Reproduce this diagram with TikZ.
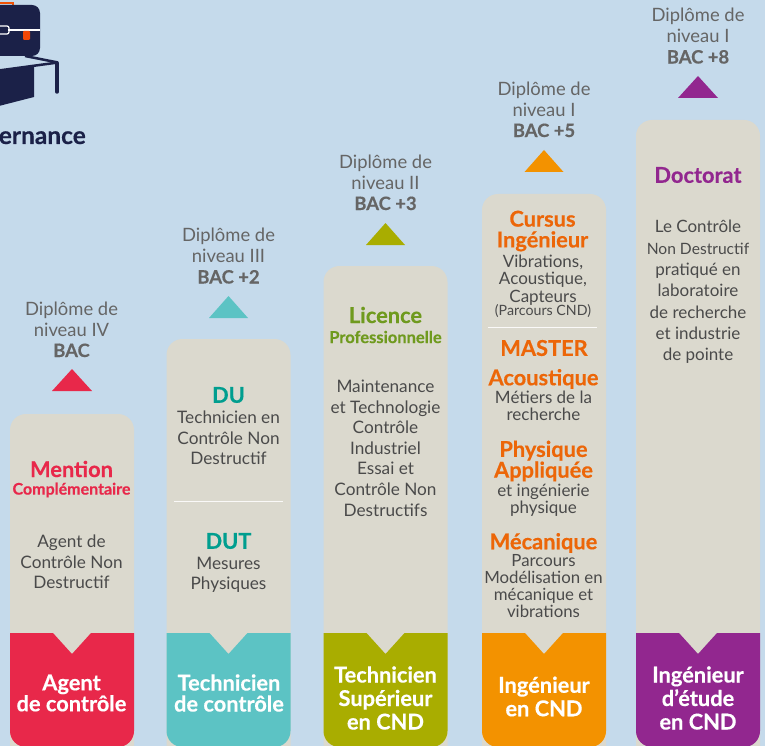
\documentclass[tikz,border=0pt]{standalone}
\usepackage{fontspec}
\setmainfont{Lato}[BoldFeatures={FakeBold=0.4}]
\definecolor{bgc}{HTML}{C5DAEB}
\definecolor{panel}{HTML}{DBD9CE}
\definecolor{cred}{HTML}{E8284A}
\definecolor{cteal}{HTML}{5CC3C4}
\definecolor{colive}{HTML}{A9AD00}
\definecolor{corange}{HTML}{F39200}
\definecolor{cpurple}{HTML}{92278F}
\definecolor{tteal}{HTML}{009E8F}
\definecolor{tolive}{HTML}{6F9A1E}
\definecolor{torange}{HTML}{EC6608}
\definecolor{body}{HTML}{4A4A4A}
\definecolor{navy}{HTML}{1B2148}
\newcommand{\column}[3]{% cx, top, color
  \fill[panel,rounded corners=16pt] (#1-62,#2) -- (#1+62,#2) -- (#1+62,780) -- (#1-62,780) -- cycle;
  \fill[#3,rounded corners=16pt] (#1-62,633) [sharp corners] -- (#1-19,633) -- (#1,654) -- (#1+19,633) -- (#1+62,633) [rounded corners=16pt] -- (#1+62,747) -- (#1-62,747) [sharp corners] -- cycle;
}
\tikzset{
  x=1pt,y=-1pt,
  lvl/.style={font=\fontsize{18.4}{20.8}\selectfont,text=body!85!white,align=center,inner sep=0pt},
  txt/.style={font=\fontsize{17.2}{20.6}\selectfont,text=body,align=center,inner sep=0pt},
  tight/.style={font=\fontsize{17}{17.2}\selectfont,text=body,align=center,inner sep=0pt},
  head/.style={font=\fontsize{21.8}{20.8}\selectfont\bfseries,align=center,inner sep=0pt},
  foot/.style={font=\fontsize{21.8}{21}\selectfont\bfseries,text=white,align=center,inner sep=0pt},
  footwide/.style={foot,font=\fontsize{21.8}{23.5}\selectfont\bfseries},
  rule/.style={draw=white!85!panel,line width=1pt}
}
\begin{document}
\begin{tikzpicture}
\useasboundingbox (0,0) rectangle (765,746);
\clip (0,0) rectangle (765,746);
\fill[bgc] (0,0) rectangle (765,746);
% icon
\draw[torange!80!red,line width=1.5pt] (0,3) -- (13,3) -- (13,8);
\fill[navy,rounded corners=8pt] (-20,5) rectangle (40,56);
\draw[white,line width=1.2pt] (8,30) -- (40,30);
\draw[white,line width=1.2pt,rounded corners=2pt] (-3,26) -- (9,26) -- (9,34) -- (-3,34);
\fill[torange!70!red,rounded corners=1pt] (23,31) rectangle (30,40);
\fill[navy] (-5,71) -- (34,65) -- (34,97) -- (-5,107) -- cycle;
\draw[navy,line width=2.5pt] (-5,71) -- (58,62.5);
\draw[navy,line width=2.5pt] (25,56) -- (58,62.5);
\draw[navy,line width=3.5pt,line cap=round] (57,63) -- (57,92);
\node[anchor=base east,inner sep=0pt,font=\fontsize{24.5}{26}\selectfont\bfseries,text=navy] (alt) at (86,144) {ernance};
% columns
\column{72}{414}{cred}
\column{228.5}{339}{cteal}
\column{385.5}{266}{colive}
\column{544}{194}{corange}
\column{698}{120}{cpurple}
% triangles
\fill[cred] (52,391) -- (72,369) -- (92,391) -- cycle;
\fill[cteal] (209,318) -- (228.5,296) -- (248,318) -- cycle;
\fill[colive] (366,245) -- (385.5,223) -- (405,245) -- cycle;
\fill[corange] (524.5,172) -- (544,150) -- (563.5,172) -- cycle;
\fill[cpurple] (678,98) -- (698,76) -- (718,98) -- cycle;
% levels
\node[lvl] (la) at (71.5,329.5) {Diplôme de\\niveau IV\\\textbf{BAC}};
\node[lvl] (lb) at (228.5,256) {Diplôme de\\niveau III\\\textbf{BAC +2}};
\node[lvl] (lc) at (385.5,182.5) {Diplôme de\\niveau II\\\textbf{BAC +3}};
\node[lvl] (ld) at (544,109.5) {Diplôme de\\niveau I\\\textbf{BAC +5}};
\node[lvl] (le) at (698,36) {Diplôme de\\niveau I\\\textbf{BAC +8}};
% column 1
\node[head,text=cred] (a1) at (71.5,469) {Mention};
\node[head,text=cred,font=\fontsize{16}{18}\selectfont\bfseries] (a2) at (71.5,490) {Complémentaire};
\node[txt] (a3) at (71.5,562) {Agent de\\Contrôle Non\\Destructif};
\node[foot] (a4) at (71.5,693) {Agent\\de contrôle};
% column 2
\node[head,text=tteal] (b1) at (228.5,395) {DU};
\node[txt] (b2) at (228.5,438) {Technicien en\\Contrôle Non\\Destructif};
\coordinate (bl) at (174,501); \coordinate (br) at (283,501);
\draw[rule] (bl) -- (br);
\node[head,text=tteal] (b3) at (228.5,541) {DUT};
\node[txt] (b4) at (228.5,575) {Mesures\\Physiques};
\node[foot] (b5) at (229,693) {Technicien\\de contrôle};
% column 3
\node[head,text=tolive] (c1) at (385.5,315) {Licence};
\node[head,text=tolive,font=\fontsize{16.5}{18}\selectfont\bfseries] (c2) at (385.5,337) {Professionnelle};
\node[txt] (c3) at (385.5,448) {Maintenance\\et Technologie\\Contrôle\\Industriel\\Essai et\\Contrôle Non\\Destructifs};
\node[footwide] (c4) at (385.5,698) {Technicien\\Supérieur\\en CND};
% column 4
\node[head,text=torange] (d1) at (542.5,231) {Cursus\\Ingénieur};
\node[tight] (d2) at (543,280) {Vibrations,\\Acoustique,\\Capteurs};
\node[txt,font=\fontsize{14.2}{15}\selectfont] (d3) at (543,311) {(Parcours CND)};
\coordinate (dl) at (488,327); \coordinate (dr) at (597,327);
\draw[rule] (dl) -- (dr);
\node[head,text=torange] (d4) at (544,348) {MASTER};
\node[head,text=torange] (d5) at (543.5,379) {Acoustique};
\node[tight] (d6) at (543.5,406) {Métiers de la\\recherche};
\node[head,text=torange] (d7) at (543.5,461) {Physique\\Appliquée};
\node[tight] (d8) at (543.5,500.5) {et ingénierie\\physique};
\node[head,text=torange] (d9) at (543.5,543) {Mécanique};
\node[tight,font=\fontsize{16.8}{16.8}\selectfont] (d10) at (543.5,586) {Parcours\\Modélisation en\\mécanique et\\vibrations};
\node[footwide] (d11) at (544,696.5) {Ingénieur\\en CND};
% column 5
\node[head,text=cpurple] (e1) at (698,175) {Doctorat};
\node[txt,font=\fontsize{17}{21.3}\selectfont] (e2) at (698,292) {Le Contrôle\\{\fontsize{15.6}{21.3}\selectfont Non Destructif}\\pratiqué en\\laboratoire\\de recherche\\et industrie\\de pointe};
\node[footwide] (e3) at (698,698) {Ingénieur\\d’étude\\en CND};
\end{tikzpicture}
\end{document}
